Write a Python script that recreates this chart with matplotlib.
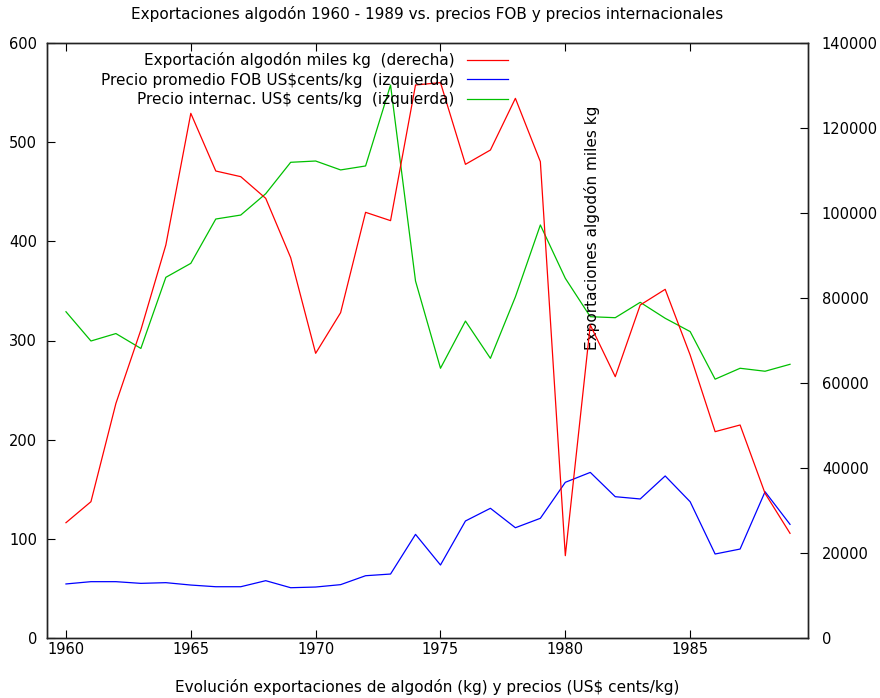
import numpy as np
import matplotlib
matplotlib.use("Agg")
import matplotlib.pyplot as plt

# years 1960-1989
years = list(range(1960, 1990))

# exportacion algodon, miles kg (right axis)
export_kg = [27130, 32070, 55200, 72500, 92470, 123450, 109880, 108550, 103450, 89490,
             66980, 76550, 100160, 98200, 130120, 130670, 111450, 114820, 126980, 112080,
             19370, 73650, 61490, 78350, 82040, 66590, 48550, 50120, 34040, 24630]

# precio promedio FOB, US$ cents/kg (left axis)
precio_fob = [54.5, 56.8, 56.8, 55.1, 55.8, 53.4, 51.7, 51.7, 57.8, 50.7,
              51.4, 53.8, 62.8, 64.5, 104.5, 73.6, 118.0, 130.8, 111.2, 120.7,
              157.0, 167.0, 142.5, 140.2, 163.4, 137.4, 84.7, 89.7, 147.5, 114.6]

# precio internacional, US$ cents/kg (left axis)
precio_int = [329, 299.5, 307, 292, 363.7, 377.8, 422.5, 426.5, 448, 479.7,
              481, 472, 476, 557.6, 360, 272, 319.6, 282, 344, 416.5,
              362.7, 324, 323, 338.5, 322.4, 309, 261, 272, 269, 276]

plt.rcParams['font.family'] = ['DejaVu Sans']
plt.rcParams['font.size'] = 11

fig = plt.figure(figsize=(8.8, 6.98), dpi=100)
ax = fig.add_axes([47/880, 1 - 638/698, 761/880, 595/698])
ax2 = ax.twinx()

lw = 0.9
l1, = ax2.plot(years, export_kg, color='#ff0000', lw=lw,
               label='Exportación algodón miles kg  (derecha)')
l2, = ax.plot(years, precio_fob, color='#0000ff', lw=lw,
              label='Precio promedio FOB US$cents/kg  (izquierda)')
l3, = ax.plot(years, precio_int, color='#00c000', lw=lw,
              label='Precio internac. US$ cents/kg  (izquierda)')

ax.set_xlim(1959.24, 1989.72)
ax.set_ylim(0, 600)
ax2.set_ylim(0, 140000)
ax.set_xticks(range(1960, 1986, 5))
ax.set_yticks(range(0, 601, 100))
ax2.set_yticks(range(0, 140001, 20000))

ax.tick_params(axis='x', direction='in', length=6, width=0.8, top=True, pad=3,
               labelsize=10.5)
ax.tick_params(axis='y', direction='in', length=6, width=0.8, right=False, pad=7,
               labelsize=10.5)
ax2.tick_params(axis='y', direction='in', length=6, width=0.8, pad=10, labelsize=10.5)
for a in (ax, ax2):
    for s in a.spines.values():
        s.set_linewidth(1.0)
        s.set_color('#222222')

ax.set_title('Exportaciones algodón 1960 - 1989 vs. precios FOB y precios internacionales',
             fontsize=11, pad=17)
ax.set_xlabel('Evolución exportaciones de algodón (kg) y precios (US$ cents/kg)', labelpad=16)
ax2.set_ylabel('Exportaciones algodón miles kg')
ax2.yaxis.set_label_coords(0.706, 0.69)

ax2.legend(handles=[l1, l2, l3], loc='upper right', bbox_to_anchor=(0.606, 0.985),
           frameon=False, markerfirst=False, handlelength=2.7, handletextpad=0.8,
           labelspacing=0.3, borderaxespad=0, borderpad=0)

fig.savefig('out.png', dpi=100)
